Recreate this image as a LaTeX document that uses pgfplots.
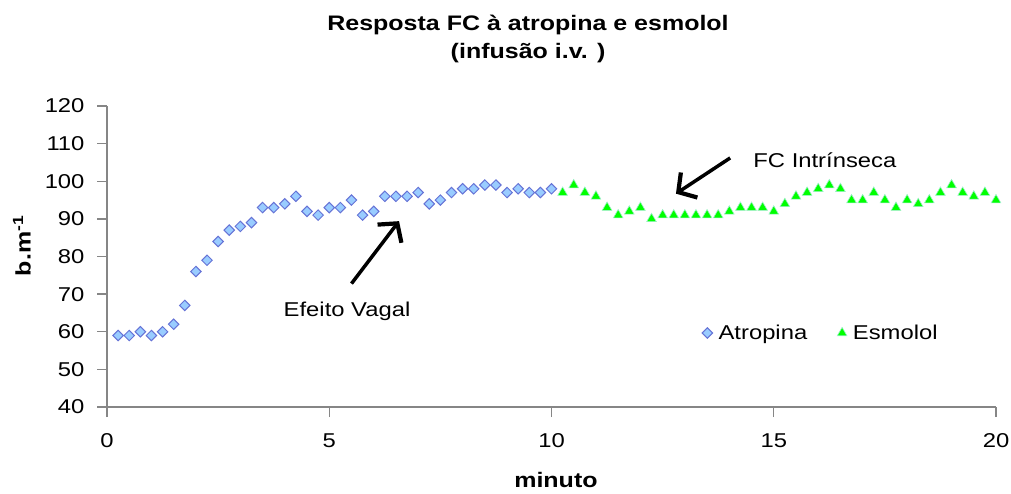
\documentclass[border=0pt]{standalone}
\usepackage{fontspec}
\setmainfont{Liberation Sans}[FakeStretch=1.19]
\usepackage{pgfplots}
\pgfplotsset{compat=1.18}
\usetikzlibrary{arrows.meta}

\definecolor{atrofill}{HTML}{99CCFF}
\definecolor{atrodraw}{HTML}{6673D6}
\definecolor{esmofill}{HTML}{00FF00}
\definecolor{esmodraw}{HTML}{9CF0C8}
\definecolor{axisgray}{HTML}{868686}

\newcommand{\chartfont}{\fontsize{20}{24}\selectfont}
\newcommand{\chartbold}{\fontsize{21}{28}\selectfont\bfseries}

% heart rate (b.m-1) every 15 s
\pgfplotstableread{
t hr
0.25 59
0.50 59
0.75 60
1.00 59
1.25 60
1.50 62
1.75 67
2.00 76
2.25 79
2.50 84
2.75 87
3.00 88
3.25 89
3.50 93
3.75 93
4.00 94
4.25 96
4.50 92
4.75 91
5.00 93
5.25 93
5.50 95
5.75 91
6.00 92
6.25 96
6.50 96
6.75 96
7.00 97
7.25 94
7.50 95
7.75 97
8.00 98
8.25 98
8.50 99
8.75 99
9.00 97
9.25 98
9.50 97
9.75 97
10.00 98
}\atropina

\pgfplotstableread{
t hr
10.25 97
10.50 99
10.75 97
11.00 96
11.25 93
11.50 91
11.75 92
12.00 93
12.25 90
12.50 91
12.75 91
13.00 91
13.25 91
13.50 91
13.75 91
14.00 92
14.25 93
14.50 93
14.75 93
15.00 92
15.25 94
15.50 96
15.75 97
16.00 98
16.25 99
16.50 98
16.75 95
17.00 95
17.25 97
17.50 95
17.75 93
18.00 95
18.25 94
18.50 95
18.75 97
19.00 99
19.25 97
19.50 96
19.75 97
20.00 95
}\esmolol

\tikzset{callout/.style={line width=3.5pt,
  -{Straight Barb[length=13pt, width=30pt, line width=4.2pt]}}}

\begin{document}
\begin{tikzpicture}
\useasboundingbox (-107pt,-86pt) rectangle (904pt,407pt);
\begin{axis}[
  scale only axis,
  width=889pt, height=301pt,
  xmin=0, xmax=20, ymin=40, ymax=120,
  xtick={0,5,10,15,20},
  ytick={40,50,...,120},
  axis lines=left,
  axis line style={-, draw=axisgray, line width=1.4pt},
  tick style={draw=axisgray, line width=1.4pt},
  tick align=outside,
  major tick length=10pt,
  clip=false,
  /pgf/number format/assume math mode=true,
  tick label style={font=\chartfont},
  xticklabel style={yshift=-13pt},
  yticklabel style={xshift=-9pt},
  legend style={at={(axis description cs:0.803,0.246)}, anchor=center,
    draw=none, fill=none, font=\chartfont,
    /tikz/every even column/.append style={column sep=28pt},
    /tikz/every odd column/.append style={column sep=4pt}},
  legend columns=2,
  legend cell align=left,
]
\addplot[only marks, mark=square*, mark size=3.7pt,
  mark options={rotate=45, fill=atrofill, draw=atrodraw, line width=1pt}]
  table[x=t, y=hr] {\atropina};
\addlegendentry{Atropina}
\addplot[only marks, mark=triangle*, mark size=5.6pt,
  mark options={fill=esmofill, draw=esmodraw, line width=0.6pt}]
  table[x=t, y=hr] {\esmolol};
\addlegendentry{Esmolol}

% annotations
\draw[callout] (axis cs:5.50,72.8) -- (axis cs:6.57,89.4);
\node[font=\chartfont] at (axis cs:5.4,65.3) {Efeito Vagal};
\draw[callout] (axis cs:14.02,106.2) -- (axis cs:12.80,96.7);
\node[font=\chartfont] at (axis cs:16.15,105.6) {FC Intrínseca};

% titles
\node[font=\chartbold, align=center] at (axis description cs:0.4736,1.2226)
  {Resposta FC à atropina e esmolol\\(infusão i.v. )};
\node[font=\chartbold, anchor=base] at (axis description cs:0.505,-0.268) {minuto};
\node[font=\chartbold, rotate=90] at (axis description cs:-0.0956,0.535)
  {b.m\textsuperscript{-1}};
\end{axis}
\end{tikzpicture}
\end{document}
